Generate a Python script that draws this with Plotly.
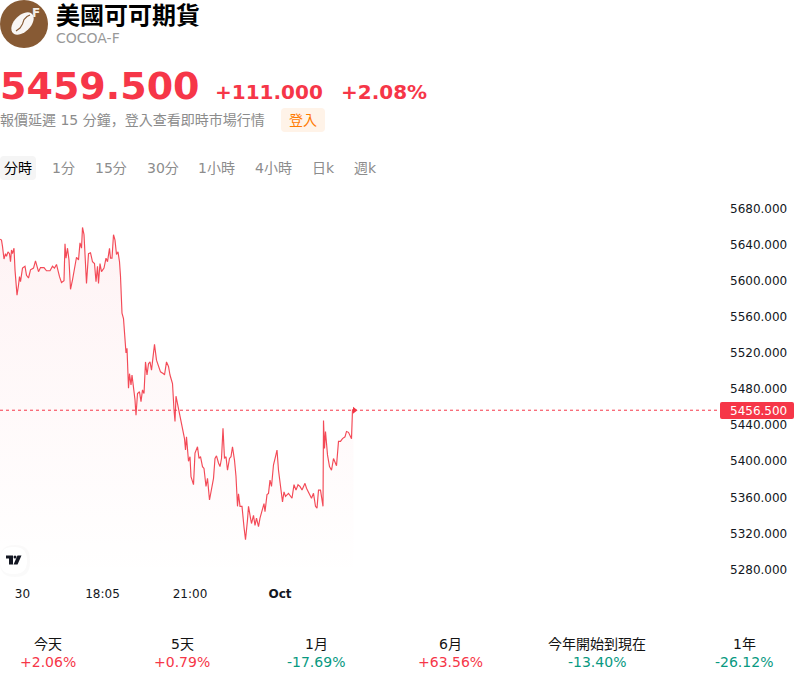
import math
import plotly.graph_objects as go

W, H = 800, 682
L, R, T, B = 0, 720, 190, 578
FONT = "DejaVu Sans, Noto Sans CJK JP, sans-serif"
RED = "#F63648"
GREEN = "#089981"
INK = "#131722"
GRAY = "#8C8C8C"
BROWN = "#875A34"

minutes = [0,3,5,8,11,13,16,19,21,23,25,28,30,32,34,37,39,41,45,50,53,57,61,67,71,77,81,88,93,100,105,109,113,119,123,128,130,132,135,138,141,145,149,153,157,160,163,165,168,171,173,177,181,185,189,192,195,197,200,203,208,212,215,219,221,224,227,230,233,236,239,241,242,244,247,249,252,254,257,259,262,264,267,270,272,275,279,282,285,288,291,294,297,300,303,307,309,313,317,321,327,329,333,337,340,345,348,350,352,355,357,361,367,369,371,373,377,380,382,387,390,395,398,401,405,408,412,415,419,423,427,430,433,437,440,443,446,449,452,455,459,462,465,469,472,475,477,480,484,488,491,495,497,501,503,507,510,513,517,520,524,528,530,534,537,540,543,547,551,554,557,561,565,568,571,577,584,588,592,596,600,604,610,613,618,623,627,631,634,637,641,646,647,649,651,655,659,663,667,673,677,681,685,690,693,697,703,705,707]
prices = [5646,5645,5638,5624,5630,5627,5632,5630,5621,5634,5630,5636,5612,5597,5584,5595,5604.5,5599,5614,5616,5606,5603,5612,5614,5622,5610,5614.5,5614.5,5611,5611,5616,5614,5618,5604.5,5598,5600,5641,5625,5636,5623,5590.5,5601,5616,5626,5623,5642,5636,5659,5651,5619,5597,5630,5631,5621,5619,5599,5616,5597,5619,5610,5614,5625,5621,5636,5625,5625,5651,5645,5629,5632,5621,5605,5582,5564,5558,5538,5520,5525,5481,5497,5484.5,5495.5,5484.5,5468,5451,5475,5477,5466,5479,5475,5510,5495.5,5508,5510,5501,5519.5,5529.5,5512,5505,5499,5497,5495.5,5510,5505,5495.5,5486,5457,5444,5472,5464,5455,5446,5431,5425,5412.4,5427,5400,5405,5383,5374,5409,5416,5403,5405,5394,5392,5372,5381,5357,5368,5381,5403,5406,5398,5394,5403,5436.4,5403,5405,5390,5403,5405,5416,5401,5383,5350,5364,5350,5350,5327,5313,5335,5350,5337,5331,5340,5329,5337,5327.5,5337,5344,5353,5344,5363,5364.4,5379,5372,5396,5405,5412.4,5390,5370,5355,5366,5361,5364.4,5359,5374,5368,5374,5372,5368,5375.5,5370,5364.4,5359,5364.4,5350,5348,5368,5368,5350,5445,5414,5433,5407,5394,5390,5403,5395,5422,5422,5425,5427,5433,5432,5425,5457,5457]

last_price = 5456.5
x_tick_vals = [45, 205, 380, 560]
x_tick_text = ["30", "18:05", "21:00", "<b>Oct</b>"]
y_ticks = [5280,5320,5360,5400,5440,5480,5520,5560,5600,5640,5680]

periods = ["今天","5天","1月","6月","今年開始到現在","1年"]
changes = ["+2.06%","+0.79%","-17.69%","+63.56%","-13.40%","-26.12%"]
period_x = [48,182,316,450,597,744]
tabs = ["分時","1分","15分","30分","1小時","4小時","日k","週k"]
tabs_x = [4,52,95,147,198,255,312,354]


def px(x):
    return (x - L) / (R - L)


def py(y):
    return (B - y) / (B - T)


def text(x, y, s, size, color, anchor="left", bold=False):
    return dict(xref="paper", yref="paper", x=px(x), y=py(y), text=f"<b>{s}</b>" if bold else s,
                showarrow=False, xanchor=anchor, yanchor="middle", align=anchor,
                borderpad=0, borderwidth=0,
                font=dict(family=FONT, size=size, color=color))


def rrect(x0, y0, x1, y1, r, fill):
    p = (f"M {px(x0+r)} {py(y0)} L {px(x1-r)} {py(y0)} Q {px(x1)} {py(y0)} {px(x1)} {py(y0+r)} "
         f"L {px(x1)} {py(y1-r)} Q {px(x1)} {py(y1)} {px(x1-r)} {py(y1)} "
         f"L {px(x0+r)} {py(y1)} Q {px(x0)} {py(y1)} {px(x0)} {py(y1-r)} "
         f"L {px(x0)} {py(y0+r)} Q {px(x0)} {py(y0)} {px(x0+r)} {py(y0)} Z")
    return dict(type="path", xref="paper", yref="paper", path=p, fillcolor=fill, line_width=0, layer="above")


def poly(pts, fill=None, line=None, width=0, closed=True):
    p = "M " + " L ".join(f"{px(a)} {py(b)}" for a, b in pts) + (" Z" if closed else "")
    return dict(type="path", xref="paper", yref="paper", path=p, fillcolor=fill or "rgba(0,0,0,0)",
                line=dict(color=line or "rgba(0,0,0,0)", width=width), layer="above")


def circle(x0, y0, x1, y1, fill):
    return dict(type="circle", xref="paper", yref="paper", x0=px(x0), x1=px(x1), y0=py(y1), y1=py(y0),
                fillcolor=fill, line_width=0, layer="above")


# coffee-bean logo outline: an ellipse tilted along the lower-left / upper-right diagonal
bean = []
for i in range(36):
    a = 2 * math.pi * i / 36
    u, v = 13.5 * math.cos(a), 8.2 * math.sin(a)
    bean.append((22.5 + (u + v) * 0.7071, 23.5 + (-u + v) * 0.7071))

fig = go.Figure()
fig.add_trace(go.Scatter(
    x=minutes, y=prices, mode="lines", line=dict(color="rgba(242,54,69,0.9)", width=1.15), fill="tozeroy",
    fillgradient=dict(type="vertical", start=5270, stop=5660,
                      colorscale=[[0, "rgba(246,54,72,0)"], [1, "rgba(246,54,72,0.06)"]]),
    hoverinfo="skip", showlegend=False))
fig.add_trace(go.Scatter(
    x=[minutes[-1] + 2], y=[last_price], mode="markers",
    marker=dict(symbol="triangle-right", size=6, color="#F23645"), hoverinfo="skip", showlegend=False))

anns = [
    text(56, 16, "美國可可期貨", 24, "#000000", bold=True),
    text(56, 38, "COCOA-F", 14, "#999999"),
    text(0, 86, "5459.500", 38, RED, bold=True),
    text(215, 92, "+111.000", 20, RED, bold=True),
    text(341, 92, "+2.08%", 20, RED, bold=True),
    text(0, 120, "報價延遲 15 分鐘，登入查看即時市場行情", 14, GRAY),
    text(303, 120, "登入", 14, "#FF7A00", "center"),
    text(36, 12.5, "F", 12, "#F4EDE6", "center", bold=True),
    text(730, 410.5, "5456.500", 12, "#FFFFFF"),
]
for i, (t, x) in enumerate(zip(tabs, tabs_x)):
    anns.append(text(x, 168, t, 14, "#000000" if i == 0 else GRAY))
for p, c, x in zip(periods, changes, period_x):
    anns.append(text(x, 644, p, 14, "#131313", "center"))
    anns.append(text(x, 662, c, 14, GREEN if c.startswith("-") else RED, "center"))

shapes = [
    dict(type="line", xref="paper", yref="y", x0=0, x1=1, y0=last_price, y1=last_price,
         line=dict(color=RED, width=1, dash="dot"), layer="above"),
    rrect(720, 402, 794, 419, 2, RED),
    rrect(281, 108, 325, 132, 4, "#FFF3E8"),
    rrect(0, 156, 36, 180, 4, "#F5F5F5"),
    circle(0, 0, 48, 48, BROWN),
    poly(bean, fill="rgba(255,255,255,0.95)"),
    poly([(16,31),(20,28),(22.5,24),(24,19.5),(27,16.5),(30,15)], line=BROWN, width=1.1, closed=False),
    rrect(0, 545, 30, 577, 14, "rgba(0,0,0,0.018)"),
    rrect(0, 547, 27, 574, 13, "#FFFFFF"),
    poly([(6,555.5),(13,555.5),(13,564.5),(9,564.5),(9,558.5),(6,558.5)], fill=INK),
    circle(13.5, 555.5, 16.5, 558.5, INK),
    poly([(17.5,555.5),(21.5,555.5),(17.5,564.5),(13.5,564.5)], fill=INK),
]

fig.update_layout(
    width=W, height=H, autosize=False,
    margin=dict(l=L, r=W - R, t=T, b=H - B, pad=0),
    paper_bgcolor="white", plot_bgcolor="white",
    font=dict(family=FONT, size=12, color=INK),
    showlegend=False, annotations=anns, shapes=shapes,
    xaxis=dict(range=[0, 1440], showgrid=False, zeroline=False, showline=False, ticks="",
               tickmode="array", tickvals=x_tick_vals, ticktext=x_tick_text,
               tickfont=dict(family=FONT, size=12, color=INK), ticklabelstandoff=7),
    yaxis=dict(range=[5270.6, 5700.5], side="right", showgrid=False, zeroline=False, showline=False,
               ticks="", tickmode="array", tickvals=y_ticks, tickformat=".3f",
               tickfont=dict(family=FONT, size=12, color=INK), ticklabelstandoff=9),
)

fig.write_html("out.html", config=dict(displayModeBar=False),
               post_script="document.body.style.margin='0';document.body.style.overflow='hidden';")
